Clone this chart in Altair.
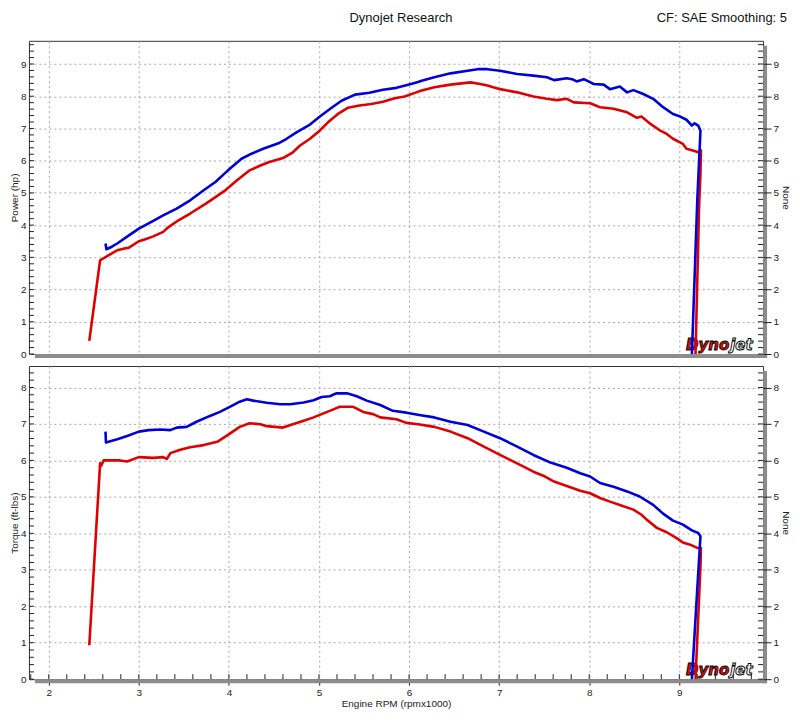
import altair as alt
import pandas as pd

# ---------------- data ----------------
TITLE_TEXT = "Dynojet Research"
INFO_TEXT = "CF: SAE Smoothing: 5"
POWER_TITLE = "Power (hp)"
TORQUE_TITLE = "Torque (ft-lbs)"
RIGHT_TITLE = "None"
X_TITLE = "Engine RPM (rpmx1000)"
X_TICKS = [2, 3, 4, 5, 6, 7, 8, 9]
POWER_TICKS = [0, 1, 2, 3, 4, 5, 6, 7, 8, 9]
TORQUE_TICKS = [0, 1, 2, 3, 4, 5, 6, 7, 8]
RUNS = ["Run 1", "Run 2"]

# Power, run 1 (red)
rpm_red_p = [2.45, 2.57, 2.63, 2.70, 2.76, 2.83, 2.89, 3.00, 3.08, 3.16, 3.27, 3.33, 3.44, 3.57, 3.74,
             3.85, 3.96, 4.09, 4.23, 4.35, 4.44, 4.60, 4.71, 4.79, 4.90, 5.01, 5.10, 5.21, 5.32, 5.45,
             5.58, 5.71, 5.84, 5.95, 6.08, 6.13, 6.28, 6.46, 6.68, 6.79, 6.87, 7.01, 7.20, 7.38, 7.53,
             7.64, 7.75, 7.83, 8.01, 8.12, 8.27, 8.42, 8.53, 8.58, 8.68, 8.79, 8.86, 8.93, 9.04, 9.08,
             9.17, 9.21, 9.24, 9.235, 9.22, 9.18]
hp_red = [0.41, 2.91, 3.01, 3.12, 3.22, 3.27, 3.30, 3.50, 3.57, 3.65, 3.79, 3.94, 4.15, 4.36, 4.66,
          4.87, 5.08, 5.39, 5.70, 5.85, 5.95, 6.08, 6.26, 6.47, 6.68, 6.94, 7.19, 7.45, 7.64, 7.71,
          7.76, 7.83, 7.94, 7.99, 8.12, 8.17, 8.28, 8.36, 8.43, 8.38, 8.33, 8.22, 8.12, 7.99, 7.92,
          7.88, 7.92, 7.81, 7.78, 7.66, 7.61, 7.50, 7.33, 7.37, 7.14, 6.93, 6.83, 6.68, 6.52, 6.37,
          6.30, 6.26, 6.32, 5.60, 4.60, 0.00]

# Power, run 2 (blue)
rpm_blue_p = [2.63, 2.64, 2.70, 2.76, 2.89, 3.00, 3.16, 3.27, 3.42, 3.57, 3.72, 3.85, 3.99, 4.14, 4.23,
              4.38, 4.55, 4.64, 4.75, 4.90, 5.01, 5.14, 5.25, 5.40, 5.56, 5.71, 5.86, 5.99, 6.10, 6.13,
              6.28, 6.46, 6.65, 6.76, 6.87, 7.01, 7.20, 7.38, 7.53, 7.61, 7.75, 7.81, 7.86, 7.94, 8.05,
              8.16, 8.23, 8.34, 8.42, 8.49, 8.60, 8.71, 8.82, 8.93, 9.01, 9.08, 9.14, 9.17, 9.21, 9.235,
              9.20, 9.14]
hp_blue = [3.43, 3.25, 3.33, 3.43, 3.68, 3.89, 4.13, 4.30, 4.51, 4.77, 5.08, 5.34, 5.70, 6.06, 6.19,
           6.37, 6.54, 6.68, 6.88, 7.12, 7.37, 7.64, 7.86, 8.05, 8.11, 8.20, 8.26, 8.36, 8.44, 8.47,
           8.59, 8.71, 8.79, 8.84, 8.84, 8.79, 8.69, 8.64, 8.59, 8.50, 8.56, 8.53, 8.46, 8.53, 8.38,
           8.36, 8.22, 8.30, 8.12, 8.19, 8.07, 7.92, 7.66, 7.45, 7.37, 7.27, 7.09, 7.16, 7.09, 6.93,
           4.80, 0.00]

# Torque, run 1 (red)
rpm_red_t = [2.45, 2.57, 2.58, 2.61, 2.79, 2.87, 3.00, 3.16, 3.27, 3.31, 3.35, 3.46, 3.57, 3.72, 3.87,
             3.99, 4.12, 4.23, 4.35, 4.42, 4.51, 4.60, 4.71, 4.83, 4.94, 5.05, 5.16, 5.23, 5.38, 5.49,
             5.60, 5.68, 5.86, 5.97, 6.10, 6.28, 6.46, 6.65, 6.83, 7.01, 7.20, 7.38, 7.49, 7.61, 7.75,
             7.90, 8.01, 8.12, 8.23, 8.34, 8.49, 8.58, 8.64, 8.75, 8.86, 8.97, 9.04, 9.12, 9.20, 9.24,
             9.235, 9.18]
tq_red = [0.93, 5.92, 5.85, 6.00, 6.00, 5.97, 6.09, 6.07, 6.09, 6.04, 6.20, 6.29, 6.36, 6.42, 6.51,
          6.70, 6.92, 7.02, 6.99, 6.94, 6.92, 6.90, 6.99, 7.09, 7.18, 7.29, 7.40, 7.47, 7.47, 7.33,
          7.27, 7.18, 7.13, 7.03, 6.99, 6.92, 6.79, 6.61, 6.38, 6.15, 5.92, 5.69, 5.58, 5.42, 5.30,
          5.17, 5.10, 4.97, 4.87, 4.78, 4.65, 4.51, 4.37, 4.15, 4.03, 3.87, 3.75, 3.69, 3.60, 3.60,
          3.10, 0.00]

# Torque, run 2 (blue)
rpm_blue_t = [2.63, 2.635, 2.76, 2.87, 3.00, 3.11, 3.24, 3.35, 3.42, 3.53, 3.64, 3.79, 3.90, 4.01, 4.12,
              4.20, 4.27, 4.42, 4.57, 4.68, 4.83, 4.94, 5.03, 5.12, 5.19, 5.31, 5.42, 5.53, 5.68, 5.82,
              5.97, 6.13, 6.28, 6.46, 6.65, 6.83, 7.01, 7.20, 7.38, 7.57, 7.75, 7.90, 8.01, 8.12, 8.27,
              8.42, 8.56, 8.71, 8.82, 8.93, 9.04, 9.14, 9.21, 9.235, 9.20, 9.14]
tq_blue = [6.79, 6.49, 6.58, 6.67, 6.79, 6.83, 6.85, 6.83, 6.90, 6.92, 7.06, 7.22, 7.33, 7.47, 7.61,
           7.68, 7.64, 7.58, 7.54, 7.54, 7.59, 7.65, 7.74, 7.76, 7.84, 7.84, 7.76, 7.64, 7.52, 7.36,
           7.31, 7.24, 7.18, 7.06, 6.97, 6.79, 6.61, 6.38, 6.15, 5.94, 5.80, 5.65, 5.56, 5.38, 5.28,
           5.15, 5.01, 4.78, 4.54, 4.35, 4.24, 4.08, 4.01, 3.92, 2.50, 0.00]

# ---------------- styling ----------------
RED = "#e00000"
BLUE = "#0000dc"
GRID = "#a8a8a8"
BAR = "#8c8c8c"
FONT = "Liberation Sans"
W, H = 736, 314
XDOM = [1.78, 9.93]


def run_df(rpm, val, run):
    return pd.DataFrame({"rpm": rpm, "value": val, "run": run, "idx": list(range(len(rpm)))})


def panel(red_rpm, red_val, blue_rpm, blue_val, ymax, yticks, ytitle, show_x, header):
    df = pd.concat([run_df(red_rpm, red_val, RUNS[0]), run_df(blue_rpm, blue_val, RUNS[1])],
                   ignore_index=True)
    xscale = alt.Scale(domain=XDOM, nice=False, zero=False)
    yscale = alt.Scale(domain=[0, ymax], nice=False, zero=False)

    if show_x:
        xaxis = alt.Axis(values=X_TICKS, title=X_TITLE, grid=True, gridDash=[2, 3], gridColor=GRID,
                         domain=False, ticks=True, tickSize=6, tickColor="#222", labelPadding=2,
                         titlePadding=1, labelFlush=False, format="d")
    else:
        xaxis = alt.Axis(values=X_TICKS, title=None, grid=True, gridDash=[2, 3], gridColor=GRID,
                         domain=False, ticks=False, labels=False)

    left_axis = alt.Axis(values=yticks, title=ytitle, orient="left", grid=True, gridDash=[2, 3],
                         gridColor=GRID, domain=False, ticks=False,
                         labelPadding=3, titlePadding=1, format="d")
    right_axis = alt.Axis(values=yticks, title=RIGHT_TITLE, orient="right", grid=False,
                          domain=False, tickSize=8, tickColor="#222", labelPadding=2,
                          titlePadding=2, format="d", zindex=1)

    minor = alt.sequence(0, ymax, 0.2, as_="t")

    left_ticks = alt.Chart(minor).mark_rule(color="#222", strokeWidth=1).encode(
        y=alt.Y("t:Q", scale=yscale, axis=None), x=alt.value(0), x2=alt.value(5))
    right_ticks = alt.Chart(minor).mark_rule(color="#222", strokeWidth=1).encode(
        y=alt.Y("t:Q", scale=yscale, axis=right_axis), x=alt.value(W - 5), x2=alt.value(W))

    layers = []
    logo_df = pd.DataFrame({"a": ["Dyno"], "b": ["jet"]})
    logo1 = alt.Chart(logo_df).mark_text(
        font="DejaVu Sans", fontSize=15, fontWeight="bold", fontStyle="italic", align="right",
        baseline="alphabetic", fill="#e01010", stroke="#000", strokeWidth=0.9).encode(
        text="a:N", x=alt.value(702), y=alt.value(H - 4))
    logo2 = alt.Chart(logo_df).mark_text(
        font="DejaVu Sans", fontSize=15, fontWeight="bold", fontStyle="italic", align="left",
        baseline="alphabetic", fill="#ffffff", stroke="#000", strokeWidth=0.9).encode(
        text="b:N", x=alt.value(703), y=alt.value(H - 4))
    layers += [logo1, logo2]

    lines = alt.Chart(df).mark_line(strokeWidth=2.6, clip=True, strokeJoin="round").encode(
        x=alt.X("rpm:Q", scale=xscale, axis=xaxis),
        y=alt.Y("value:Q", scale=yscale, axis=left_axis),
        color=alt.Color("run:N", scale=alt.Scale(domain=RUNS, range=[RED, BLUE]), legend=None),
        detail="run:N",
        order="idx:Q")
    layers.append(lines)
    layers.append(left_ticks)

    if show_x:
        bottom_ticks = alt.Chart(alt.sequence(1.8, 9.95, 0.2, as_="r")).mark_rule(
            color="#222", strokeWidth=1).encode(
            x=alt.X("r:Q", scale=xscale, axis=xaxis), y=alt.value(H - 5), y2=alt.value(H))
        layers.append(bottom_ticks)

    bar_bottom = alt.Chart(logo_df).mark_rule(color=BAR, strokeWidth=4).encode(
        x=alt.value(6), x2=alt.value(W + 4), y=alt.value(H + 2))
    bar_right = alt.Chart(logo_df).mark_rule(color=BAR, strokeWidth=4).encode(
        x=alt.value(W + 2), y=alt.value(5), y2=alt.value(H + 4))
    layers += [bar_bottom, bar_right, right_ticks]

    if header:
        hdf = pd.DataFrame({"title": [TITLE_TEXT], "info": [INFO_TEXT]})
        t1 = alt.Chart(hdf).mark_text(font=FONT, fontSize=13, align="center",
                                      baseline="alphabetic", color="#111").encode(
            text="title:N", x=alt.value(373), y=alt.value(-19))
        t2 = alt.Chart(hdf).mark_text(font=FONT, fontSize=13, align="right",
                                      baseline="alphabetic", color="#111").encode(
            text="info:N", x=alt.value(760), y=alt.value(-19))
        layers += [t1, t2]

    return alt.layer(*layers).resolve_scale(y="independent").properties(width=W, height=H)


top = panel(rpm_red_p, hp_red, rpm_blue_p, hp_blue, 9.72, POWER_TICKS, POWER_TITLE, False, True)
bottom = panel(rpm_red_t, tq_red, rpm_blue_t, tq_blue, 8.59, TORQUE_TICKS, TORQUE_TITLE, True, False)

chart = alt.vconcat(top, bottom, spacing=12, bounds="flush").properties(
    padding={"left": 0, "top": 2, "right": 0, "bottom": 0},
).configure_view(
    stroke="#333", strokeWidth=1
).configure_axis(
    labelFont=FONT, labelFontSize=10, labelColor="#222",
    titleFont=FONT, titleFontSize=10, titleFontWeight="normal", titleColor="#222",
)

chart.save("out.html", embed_options={"renderer": "svg", "actions": False})
